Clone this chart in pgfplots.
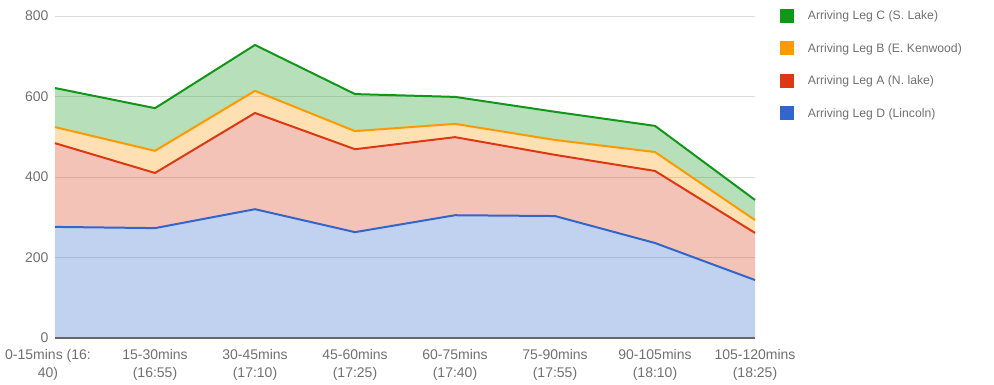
\documentclass[border=0pt]{standalone}
\usepackage{fontspec}
\setmainfont{Liberation Sans}
\usepackage{pgfplots}
\usepackage{pgfplotstable}
\pgfplotsset{compat=1.18}
\usepgfplotslibrary{fillbetween}
\definecolor{cC}{HTML}{109618}
\definecolor{cB}{HTML}{FF9900}
\definecolor{cA}{HTML}{DC3912}
\definecolor{cD}{HTML}{3366CC}
\definecolor{txt}{HTML}{707070}
\definecolor{grd}{HTML}{DDDDDD}
% cumulative (stacked) tops
\pgfplotstableread{
x D A B C
0 276 484 524 621
1 273 410 465 571
2 320 559 614 728
3 263 469 514 606
4 305 499 532 599
5 303 455 492 562
6 236 415 462 527
7 144 261 293 343
}\datatable
\begin{document}
\begin{tikzpicture}
\begin{axis}[
  at={(55pt,47pt)}, anchor=south west,
  scale only axis, width=700pt, height=322pt,
  xmin=0, xmax=7, ymin=0, ymax=800,
  axis line style={draw=none},
  major tick length=0pt,
  /pgf/number format/assume math mode=true,
  ytick={0,200,400,600,800},
  ymajorgrids, grid style={grd, line width=0.8pt},
  xtick={0,...,7},
  xticklabels={{\hspace*{-14pt}0-15mins (16:\\\hspace*{-14pt}40)},{15-30mins\\(16:55)},{30-45mins\\(17:10)},{45-60mins\\(17:25)},{60-75mins\\(17:40)},{75-90mins\\(17:55)},{90-105mins\\(18:10)},{105-120mins\\(18:25)}},
  xticklabel style={align=center, font=\fontsize{14}{18}\selectfont, text=txt, yshift=-8pt},
  yticklabel style={font=\fontsize{14}{16}\selectfont, text=txt, xshift=-3pt},
  clip=false,
  legend style={at={(rel axis cs:1.035,1.022)}, anchor=north west, draw=none, fill=none,
    font=\fontsize{12.2}{14}\selectfont, text=txt, row sep=18pt, inner sep=0pt},
  legend cell align=left,
  legend image code/.code={\fill[#1] (0pt,-6pt) rectangle (13pt,7pt); \path[draw=none] (0pt,0pt) -- (26pt,0pt);},
]
\addplot[draw=none, name path=zero, forget plot] coordinates {(0,0) (7,0)};
\addplot[draw=none, name path=D, forget plot] table[x=x,y=D] {\datatable};
\addplot[draw=none, name path=A, forget plot] table[x=x,y=A] {\datatable};
\addplot[draw=none, name path=B, forget plot] table[x=x,y=B] {\datatable};
\addplot[draw=none, name path=C, forget plot] table[x=x,y=C] {\datatable};
\addplot[fill=cD, fill opacity=0.3, draw=none, forget plot] fill between[of=D and zero];
\addplot[fill=cA, fill opacity=0.3, draw=none, forget plot] fill between[of=A and D];
\addplot[fill=cB, fill opacity=0.3, draw=none, forget plot] fill between[of=B and A];
\addplot[fill=cC, fill opacity=0.3, draw=none, forget plot] fill between[of=C and B];
\addplot[cD, line width=2pt, forget plot] table[x=x,y=D] {\datatable};
\addplot[cA, line width=2pt, forget plot] table[x=x,y=A] {\datatable};
\addplot[cB, line width=2pt, forget plot] table[x=x,y=B] {\datatable};
\addplot[cC, line width=2pt, forget plot] table[x=x,y=C] {\datatable};
\draw[black!60, line width=1.5pt] (axis cs:0,0) -- (axis cs:7,0);
\addlegendimage{cC}\addlegendentry{Arriving Leg C (S. Lake)}
\addlegendimage{cB}\addlegendentry{Arriving Leg B (E. Kenwood)}
\addlegendimage{cA}\addlegendentry{Arriving Leg A (N. lake)}
\addlegendimage{cD}\addlegendentry{Arriving Leg D (Lincoln)}
\end{axis}
\path (0pt,0pt) rectangle (994pt,385pt);
\end{tikzpicture}
\end{document}
